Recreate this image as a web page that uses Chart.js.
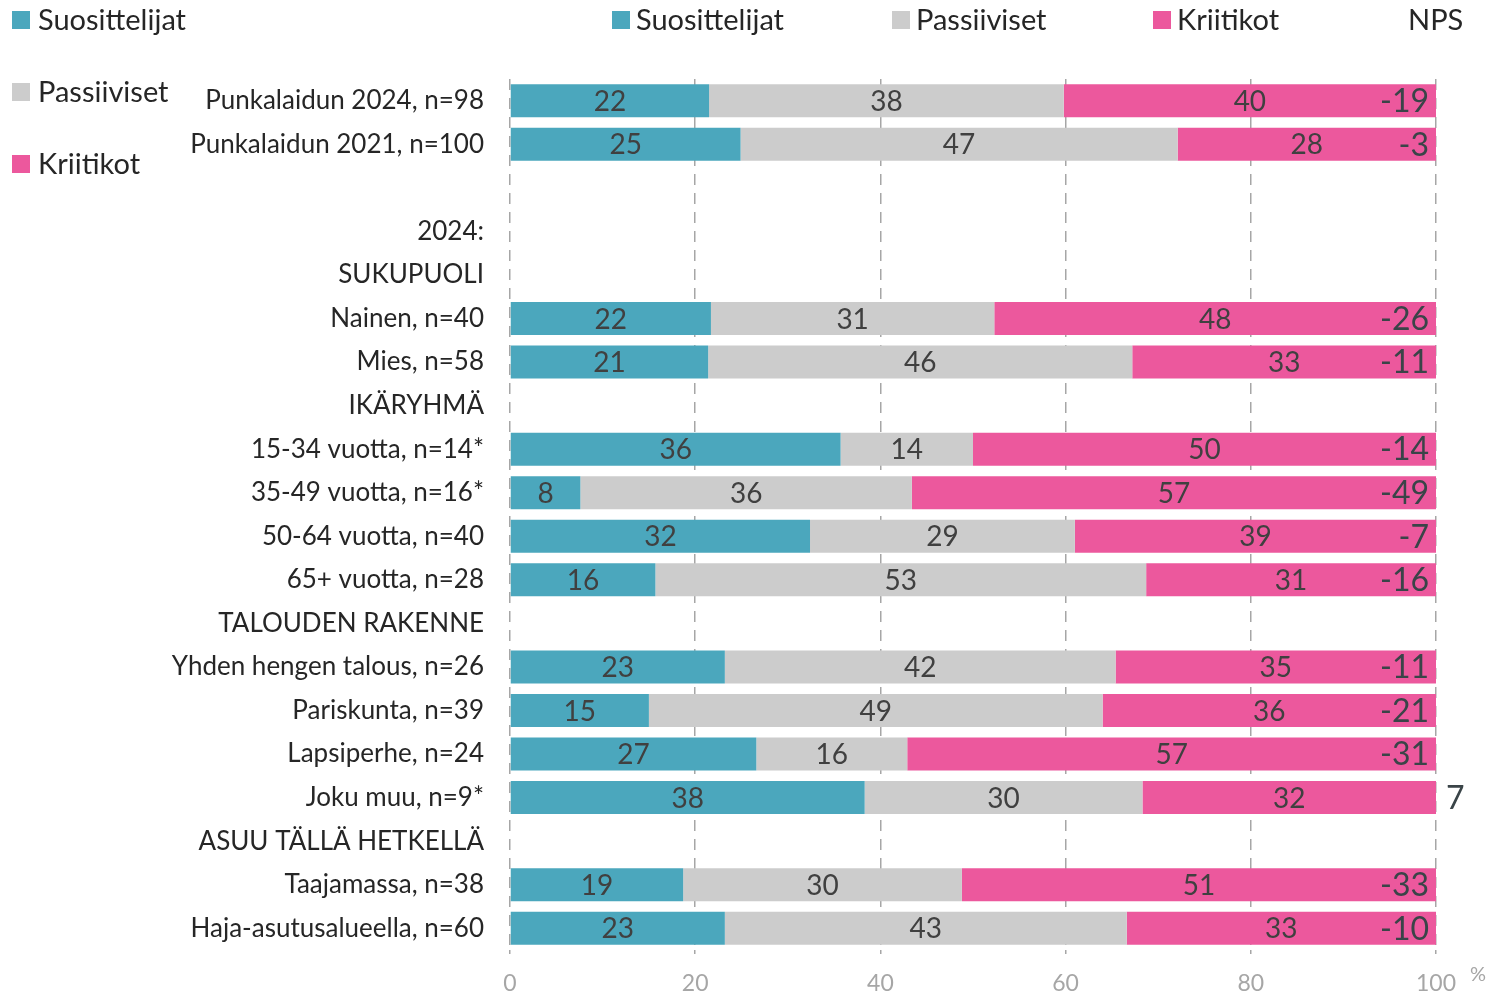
<!DOCTYPE html>
<html>
<head>
<meta charset="utf-8">
<script src="https://cdn.jsdelivr.net/npm/chart.js@4"></script>
<style>
  html, body { margin: 0; padding: 0; background: #fff; }
  #wrap { width: 1486px; height: 1002px; position: relative; }
</style>
</head>
<body>
<div id="wrap"><canvas id="chart"></canvas></div>
<script>
// rivit ylhäältä alas, tyhjät = väliotsikot
var categories = [
  'Punkalaidun 2024, n=98', 'Punkalaidun 2021, n=100', '', '2024:', 'SUKUPUOLI',
  'Nainen, n=40', 'Mies, n=58', 'IKÄRYHMÄ',
  '15-34 vuotta, n=14*', '35-49 vuotta, n=16*', '50-64 vuotta, n=40', '65+ vuotta, n=28',
  'TALOUDEN RAKENNE', 'Yhden hengen talous, n=26', 'Pariskunta, n=39', 'Lapsiperhe, n=24', 'Joku muu, n=9*',
  'ASUU TÄLLÄ HETKELLÄ', 'Taajamassa, n=38', 'Haja-asutusalueella, n=60'
];
var suosittelijat = [21.5, 24.9, null, null, null, 21.7, 21.4, null, 35.7, 7.6, 32.4, 15.7, null, 23.2, 15.0, 26.6, 38.3, null, 18.7, 23.2];
var passiiviset   = [38.3, 47.2, null, null, null, 30.6, 45.8, null, 14.3, 35.8, 28.6, 53.0, null, 42.2, 49.0, 16.3, 30.0, null, 30.1, 43.4];
var kriitikot     = [40.2, 27.9, null, null, null, 47.7, 32.8, null, 50.0, 56.6, 39.0, 31.3, null, 34.6, 36.0, 57.1, 31.7, null, 51.2, 33.4];
var nps           = [-19, -3, null, null, null, -26, -11, null, -14, -49, -7, -16, null, -11, -21, -31, 7, null, -33, -10];
var xTicks = [0, 20, 40, 60, 80, 100];

var colors = ['#4BA7BD', '#CCCCCC', '#EC589D'];
var seriesNames = ['Suosittelijat', 'Passiiviset', 'Kriitikot'];
var FONT = 'Lato';

// arvot palkkien sisään + NPS oikealle
var labelPlugin = {
  id: 'labels',
  afterDatasetsDraw: function(chart) {
    var ctx = chart.ctx;
    ctx.save();
    ctx.fillStyle = '#404040';
    ctx.textBaseline = 'middle';
    ctx.textAlign = 'center';
    ctx.font = '28px ' + FONT;
    chart.data.datasets.forEach(function(ds, di) {
      var meta = chart.getDatasetMeta(di);
      meta.data.forEach(function(bar, i) {
        var v = ds.data[i];
        if (v == null) return;
        var c = bar.getCenterPoint();
        ctx.fillText(Math.round(v), c.x, c.y + 1);
      });
    });
    var xs = chart.scales.x, ys = chart.scales.y;
    ctx.font = '32px ' + FONT;
    ctx.fillStyle = '#3A4448';
    nps.forEach(function(v, i) {
      if (v == null) return;
      var y = ys.getPixelForValue(i) + 1;
      if (v < 0) {
        ctx.textAlign = 'right';
        ctx.fillText(v, xs.getPixelForValue(100) - 7, y);
      } else {
        ctx.textAlign = 'left';
        ctx.fillText(v, xs.getPixelForValue(100) + 10, y);
      }
    });
    ctx.restore();
  }
};

// kaksi selitettä kuten alkuperäisessä
var legendPlugin = {
  id: 'legends',
  afterDraw: function(chart) {
    var ctx = chart.ctx;
    ctx.save();
    ctx.font = '29px ' + FONT;
    ctx.textBaseline = 'middle';
    ctx.textAlign = 'left';
    var leftY = [20, 92, 164];
    for (var i = 0; i < 3; i++) {
      ctx.fillStyle = colors[i];
      ctx.fillRect(12, leftY[i] - 9, 18, 18);
      ctx.fillStyle = '#262626';
      ctx.fillText(seriesNames[i], 38, leftY[i] + 1);
    }
    var topX = [612, 892, 1153];
    for (var j = 0; j < 3; j++) {
      ctx.fillStyle = colors[j];
      ctx.fillRect(topX[j], 11, 18, 18);
      ctx.fillStyle = '#262626';
      ctx.fillText(seriesNames[j], topX[j] + 24, 21);
    }
    ctx.fillText('NPS', 1408, 21);
    ctx.fillStyle = '#A6A6A6';
    ctx.font = '20px ' + FONT;
    ctx.fillText('%', 1470, 975);
    ctx.restore();
  }
};

new Chart(document.getElementById('chart'), {
  type: 'bar',
  data: {
    labels: categories,
    datasets: [
      { label: seriesNames[0], data: suosittelijat, backgroundColor: colors[0] },
      { label: seriesNames[1], data: passiiviset, backgroundColor: colors[1] },
      { label: seriesNames[2], data: kriitikot, backgroundColor: colors[2] }
    ]
  },
  options: {
    indexAxis: 'y',
    responsive: true,
    maintainAspectRatio: false,
    animation: false,
    layout: { padding: { top: 79, right: 50, left: 0, bottom: 0 } },
    datasets: { bar: { categoryPercentage: 1, barPercentage: 0.76 } },
    plugins: { legend: { display: false }, tooltip: { enabled: false } },
    scales: {
      x: {
        stacked: true,
        min: 0, max: 100,
        afterFit: function(s) { s.height = 52; },
        afterBuildTicks: function(s) { s.ticks = xTicks.map(function(v) { return { value: v }; }); },
        grid: { color: '#A6A6A6', lineWidth: 1.5, drawTicks: true, tickLength: 4, tickColor: '#A6A6A6', tickBorderDash: [] },
        border: { display: false, dash: [11, 8] },
        ticks: { color: '#A6A6A6', font: { family: FONT, size: 23 }, padding: 16, maxRotation: 0 }
      },
      y: {
        stacked: true,
        afterFit: function(s) { s.width = 510; },
        grid: { display: false, drawTicks: false },
        border: { display: false },
        ticks: { color: '#262626', font: { family: FONT, size: 26 }, padding: 26, autoSkip: false }
      }
    }
  },
  plugins: [labelPlugin, legendPlugin]
});
</script>
</body>
</html>
